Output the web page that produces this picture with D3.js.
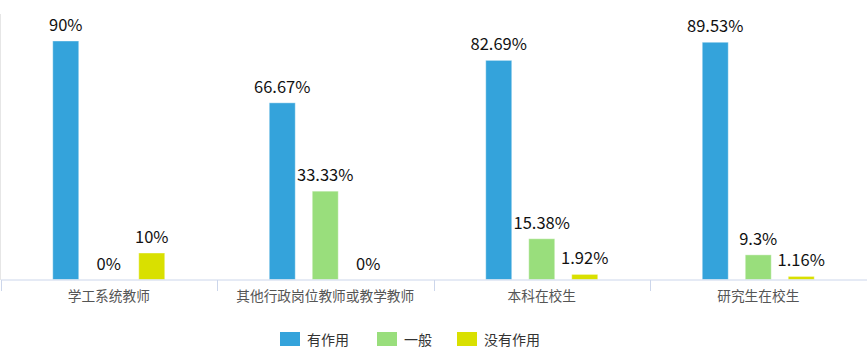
<!DOCTYPE html>
<html><head><meta charset="utf-8">
<script src="https://cdn.jsdelivr.net/npm/d3@7"></script>
<style>body{margin:0;background:#fff;}svg{display:block;}</style>
</head><body>
<svg id="c" width="867" height="359"></svg>
<script>
const categories = ["学工系统教师","其他行政岗位教师或教学教师","本科在校生","研究生在校生"];
const seriesNames = ["有作用","一般","没有作用"];
const seriesColors = ["#34a3db","#99de7c","#d9e000"];
const useful = [90, 66.67, 82.69, 89.53];
const average = [0, 33.33, 15.38, 9.3];
const useless = [10, 0, 1.92, 1.16];
const seriesValues = [useful, average, useless];

const svg = d3.select("#c");
const font = "'Microsoft YaHei','Noto Sans CJK SC',sans-serif";
const x0 = d3.scaleBand().domain(categories).range([0.5, 866.5]);
const x1 = d3.scalePoint().domain(seriesNames).range([108.25 - 43, 108.25 + 43]);
const bw = 26;
const y = d3.scaleLinear().domain([0, 100]).range([279.5, 14.5]);

// y axis line
svg.append("line").attr("x1",0.5).attr("x2",0.5).attr("y1",14).attr("y2",280).attr("stroke","#e6e6e6");

const g = svg.append("g");
seriesNames.forEach((s, si) => {
  categories.forEach((c, ci) => {
    const v = seriesValues[si][ci];
    const cx = x0(c) + x1(s);
    const bx = cx - bw/2;
    if (v > 0) {
      g.append("rect").attr("x", bx).attr("y", y(v)).attr("width", bw)
        .attr("height", y(0) - y(v)).attr("fill", seriesColors[si])
        .attr("stroke","#ffffff").attr("stroke-opacity",0.4).attr("stroke-width",1);
    }
    g.append("text").attr("x", cx).attr("y", y(v) - 10)
      .attr("text-anchor","middle").attr("font-family",font).attr("font-size",16.5)
      .attr("fill","#111").text(v + "%");
  });
});

// x axis
const xAxis = d3.axisBottom(x0).tickSize(0).tickPadding(12);
const ax = svg.append("g").attr("transform","translate(0,279.5)").call(xAxis);
ax.select(".domain").attr("stroke","#ccd6eb");
ax.selectAll("text").attr("font-family",font).attr("font-size",13.7).attr("fill","#555");
const edges = categories.map(c => x0(c)).concat([x0.range()[1]]);
svg.selectAll(".tk").data(edges).enter().append("line")
  .attr("x1", d => Math.round(d)+0.5).attr("x2", d => Math.round(d)+0.5)
  .attr("y1",280).attr("y2",291).attr("stroke","#ccd6eb");

// legend
const legX = [280, 377, 457];
const lg = svg.append("g");
seriesNames.forEach((s, i) => {
  lg.append("rect").attr("x", legX[i]).attr("y", 332).attr("width", 20).attr("height", 14).attr("fill", seriesColors[i]);
  lg.append("text").attr("x", legX[i] + 27).attr("y", 344.5).attr("font-family",font).attr("font-size",14)
    .attr("fill","#333").text(s);
});
</script>
</body></html>
